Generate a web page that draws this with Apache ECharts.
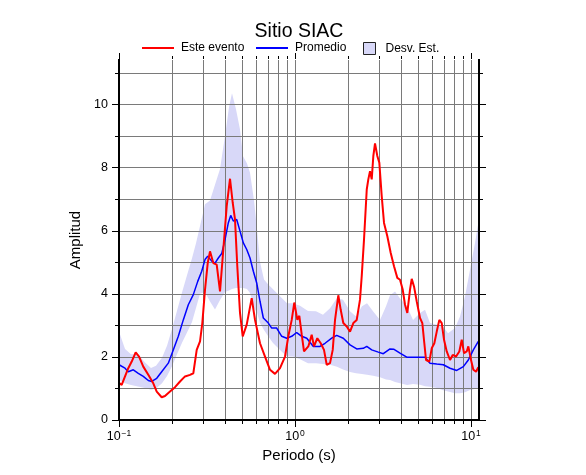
<!DOCTYPE html>
<html>
<head>
<meta charset="utf-8">
<script src="https://cdn.jsdelivr.net/npm/echarts@6/dist/echarts.min.js"></script>
<style>html,body{margin:0;padding:0;background:#fff}#chart{width:586px;height:475px}</style>
</head>
<body>
<div id="chart"></div>
<script>
// ---- Data ----
const redPeriod = [0.100,0.1036,0.1082,0.1129,0.1181,0.1244,0.130,0.1374,0.1467,0.1566,0.1638,0.1748,0.1825,0.1949,0.2081,0.2222,0.2371,0.2532,0.2644,0.2764,0.2886,0.2974,0.3081,0.3192,0.3289,0.3434,0.359,0.3749,0.3914,0.4092,0.4273,0.4426,0.4561,0.47,0.487,0.5045,0.5317,0.5675,0.5926,0.6326,0.6754,0.7211,0.7698,0.8219,0.8775,0.9161,0.9579,0.9908,1.031,1.058,1.092,1.125,1.190,1.244,1.282,1.339,1.400,1.461,1.514,1.581,1.638,1.688,1.762,1.818,1.881,1.967,2.054,2.145,2.242,2.340,2.393,2.466,2.556,2.609,2.668,2.728,2.786,2.848,2.935,3.013,3.109,3.204,3.346,3.498,3.652,3.813,3.950,4.092,4.217,4.345,4.502,4.604,4.743,4.914,5.131,5.288,5.429,5.551,5.797,5.98,6.187,6.386,6.607,6.817,7.025,7.277,7.598,7.870,8.219,8.581,8.856,9.125,9.454,9.654,10.0,10.31,10.68,11.0];
const redAmp = [1.18,1.11,1.38,1.64,1.85,2.14,2.01,1.69,1.43,1.16,0.90,0.72,0.76,0.90,1.04,1.22,1.38,1.43,1.48,2.22,2.49,3.07,4.13,4.97,5.34,4.97,4.92,4.07,5.40,6.77,7.64,6.88,6.35,4.87,3.39,2.65,3.02,3.86,3.17,2.43,2.01,1.59,1.46,1.64,2.01,2.65,3.17,3.72,3.17,3.30,2.70,2.17,2.33,2.70,2.33,2.59,2.43,2.22,1.75,1.80,2.22,3.17,3.95,3.49,3.07,2.96,2.80,3.07,3.17,3.81,4.55,5.71,7.30,7.62,7.88,7.62,8.36,8.76,8.36,8.15,7.09,6.24,5.82,5.29,4.87,4.50,4.44,4.13,3.65,3.39,4.13,4.47,4.23,3.76,3.23,3.07,2.43,1.90,1.85,2.27,2.43,2.80,3.17,3.07,2.54,2.17,1.90,2.06,2.01,2.17,2.54,2.12,2.17,2.33,1.90,1.59,1.53,1.67];

const bluePeriod = [0.100,0.1082,0.1129,0.1206,0.1287,0.1374,0.1467,0.1534,0.1638,0.1748,0.1906,0.2034,0.2173,0.2319,0.2476,0.2644,0.2801,0.2951,0.3081,0.3192,0.3363,0.3511,0.3667,0.3833,0.4003,0.4178,0.4312,0.4461,0.4664,0.487,0.5086,0.5317,0.5551,0.5797,0.6059,0.6326,0.6607,0.7053,0.7373,0.787,0.8404,0.8972,0.9579,1.022,1.092,1.166,1.271,1.387,1.481,1.616,1.725,1.881,2.054,2.242,2.443,2.556,2.728,2.974,3.174,3.466,3.652,3.950,4.312,4.700,5.131,5.479,5.848,6.386,6.961,7.598,8.295,9.044,9.654,10.31,11.0];
const blueAmp = [1.75,1.64,1.53,1.59,1.48,1.38,1.25,1.22,1.32,1.53,1.80,2.22,2.65,3.17,3.65,3.97,4.39,4.71,5.08,5.19,5.03,4.97,5.13,5.27,5.71,6.24,6.48,6.30,6.35,5.98,5.61,5.40,5.13,4.71,4.34,3.76,3.23,3.07,2.91,2.91,2.65,2.59,2.65,2.77,2.65,2.59,2.33,2.33,2.43,2.59,2.68,2.59,2.38,2.25,2.27,2.33,2.22,2.15,2.10,2.25,2.24,2.12,1.99,1.99,1.99,1.99,1.80,1.77,1.75,1.64,1.57,1.69,1.90,2.22,2.49];

const bandPeriod = [0.100,0.1082,0.117,0.1282,0.1405,0.152,0.1623,0.1755,0.1874,0.2001,0.2136,0.228,0.2434,0.2599,0.2738,0.2886,0.3081,0.3289,0.3511,0.3749,0.4003,0.4217,0.4385,0.4621,0.487,0.5065,0.5337,0.5551,0.5848,0.6083,0.6326,0.6667,0.7025,0.7499,0.8219,0.9008,0.9741,1.068,1.185,1.316,1.442,1.581,1.732,1.874,2.054,2.222,2.402,2.566,2.775,3.041,3.289,3.466,3.700,3.950,4.329,4.683,5.131,5.479,5.848,6.411,6.934,7.402,8.111,8.660,9.246,9.870,10.54,11.0];
const bandHigh = [2.80,2.25,2.08,2.08,1.82,1.65,1.72,1.97,2.35,2.88,3.46,4.04,4.58,5.12,5.60,6.14,6.83,6.95,7.45,7.95,9.00,9.90,10.35,9.84,9.20,8.35,8.12,7.83,6.95,6.05,5.00,4.45,4.30,4.14,3.92,3.70,3.70,3.62,3.45,3.44,3.33,3.54,3.86,3.81,3.44,3.28,3.60,3.70,3.44,3.17,3.60,3.95,4.07,3.85,3.60,3.17,3.39,3.49,3.07,3.02,2.96,2.75,2.91,3.28,3.92,4.76,5.61,6.24];
const bandLow = [1.27,1.16,1.11,1.06,1.01,0.96,1.00,1.16,1.39,1.70,2.08,2.45,2.77,3.10,3.55,4.00,4.05,3.75,3.50,3.80,4.05,4.10,4.15,4.18,4.18,4.18,4.15,4.02,3.55,3.40,3.07,2.85,2.66,2.44,2.22,2.01,2.01,1.92,1.80,1.80,1.77,1.75,1.69,1.60,1.52,1.48,1.46,1.43,1.40,1.35,1.28,1.27,1.20,1.16,1.11,1.14,1.12,1.07,1.05,1.01,0.94,0.90,0.85,0.85,0.88,0.95,0.98,1.01];

const xGridValues = [0.1,0.2,0.3,0.4,0.5,0.6,0.7,0.8,0.9,1,2,3,4,5,6,7,8,9,10];
const yTickValues = [0,1,2,3,4,5,6,7,8,9,10,11];

const X_MIN = 0.1, X_MAX = 11.1, Y_MIN = 0, Y_MAX = 11.4;

// ---- Styles ----
const FONT = 'Liberation Sans, Arial, Helvetica, sans-serif';
const RED = '#ff0000', BLUE = '#0000ff', BAND = '#d8d8f8', GRID = '#7a7a7a';

const isDecade = v => Math.abs(Math.log10(v) - Math.round(Math.log10(v))) < 1e-9;
const crisp = v => Math.round(v) + 0.5;

const chart = echarts.init(document.getElementById('chart'), null, {renderer: 'canvas'});

const axisLineStyle = {color: '#000', width: 2, cap: 'square'};
const legendText = {fontFamily: FONT, fontSize: 12, color: '#000'};

const option = {
  animation: false,
  backgroundColor: '#fff',
  title: {
    text: 'Sitio SIAC', left: 299, top: 22, textAlign: 'center', padding: 0,
    textStyle: {fontFamily: FONT, fontSize: 19.5, fontWeight: 'normal', color: '#000'}
  },
  legend: [
    {data: [{name: 'Este evento', icon: 'rect', itemStyle: {color: RED, borderWidth: 0}}],
     left: 142, top: 42, padding: 0, itemWidth: 32, itemHeight: 2, selectedMode: false,
     textStyle: Object.assign({padding: [0,0,0,2]}, legendText)},
    {data: [{name: 'Promedio', icon: 'rect', itemStyle: {color: BLUE, borderWidth: 0}}],
     left: 256, top: 42, padding: 0, itemWidth: 32, itemHeight: 2, selectedMode: false,
     textStyle: Object.assign({padding: [0,0,0,2]}, legendText)},
    {data: [{name: 'Desv. Est.', icon: 'rect', itemStyle: {color: BAND, borderColor: '#222', borderWidth: 1}}],
     left: 363, top: 42, padding: 0, itemWidth: 12, itemHeight: 12, selectedMode: false,
     textStyle: Object.assign({padding: [0,0,0,5]}, legendText)}
  ],
  grid: {left: 119, top: 60, width: 360, height: 360, containLabel: false},
  xAxis: [
    {type: 'log', logBase: 10, min: X_MIN, max: X_MAX, position: 'bottom', z: 10,
     axisLine: {show: true, lineStyle: axisLineStyle}, axisTick: {show: false}, splitLine: {show: false},
     minorTick: {show: false}, minorSplitLine: {show: false},
     axisLabel: {
       margin: 9, color: '#000',
       formatter: v => {
         if (!isDecade(v)) return '';
         const e = Math.round(Math.log10(v));
         return '{b|10}{s|' + (e < 0 ? '\u2212' + (-e) : e) + '}';
       },
       rich: {
         b: {fontFamily: FONT, fontSize: 12.5, color: '#000', lineHeight: 14, verticalAlign: 'bottom'},
         s: {fontFamily: FONT, fontSize: 8.5, color: '#000', lineHeight: 14, verticalAlign: 'top', padding: [0,0,0,1]}
       }
     },
     name: 'Periodo (s)', nameLocation: 'middle', nameGap: 28,
     nameTextStyle: {fontFamily: FONT, fontSize: 15, color: '#000'}},
    {type: 'log', logBase: 10, min: X_MIN, max: X_MAX, position: 'top', z: 10,
     axisLine: {show: true, lineStyle: axisLineStyle}, axisTick: {show: false}, axisLabel: {show: false}, splitLine: {show: false}}
  ],
  yAxis: [
    {type: 'value', min: Y_MIN, max: Y_MAX, interval: 1, position: 'left', z: 10,
     axisLine: {show: true, lineStyle: axisLineStyle}, axisTick: {show: false}, splitLine: {show: false},
     axisLabel: {margin: 11, color: '#000', fontFamily: FONT, fontSize: 12.5,
       formatter: v => (Number.isInteger(v) && v % 2 === 0) ? String(v) : ''},
     name: 'Amplitud', nameLocation: 'middle', nameGap: 26,
     nameTextStyle: {fontFamily: FONT, fontSize: 15, color: '#000'}},
    {type: 'value', min: Y_MIN, max: Y_MAX, interval: 1, position: 'right', z: 10,
     axisLine: {show: true, lineStyle: axisLineStyle}, axisTick: {show: false}, axisLabel: {show: false}, splitLine: {show: false}}
  ],
  series: [
    {name: 'Desv. Est.', type: 'custom', silent: true, z: 1, clip: true,
     itemStyle: {color: BAND},
     data: bandPeriod.map((p, i) => [p, bandLow[i], bandHigh[i]]),
     encode: {x: 0, y: [1, 2]},
     renderItem: (params, api) => {
       if (params.dataIndex !== 0) return null;
       const pts = [];
       for (let i = 0; i < bandPeriod.length; i++) pts.push(api.coord([bandPeriod[i], bandHigh[i]]));
       for (let i = bandPeriod.length - 1; i >= 0; i--) pts.push(api.coord([bandPeriod[i], bandLow[i]]));
       return {type: 'polygon', shape: {points: pts}, style: {fill: BAND, stroke: null}};
     }},
    {name: 'vgrid', type: 'custom', silent: true, z: 2, clip: false,
     data: xGridValues.map(v => [v, isDecade(v) ? 1 : 0]),
     encode: {x: 0, y: 1},
     renderItem: (params, api) => {
       const v = api.value(0), major = api.value(1) === 1;
       const b = api.coord([v, Y_MIN]), t = api.coord([v, Y_MAX]);
       const x = crisp(b[0]);
       const L = major ? 6 : 3;
       const ch = [];
       if (v > X_MIN * 1.0001) ch.push({type: 'line', shape: {x1: x, y1: b[1], x2: x, y2: t[1]}, style: {stroke: GRID, lineWidth: 1}});
       ch.push({type: 'line', shape: {x1: x, y1: b[1] + 1, x2: x, y2: b[1] + 1 + L}, style: {stroke: '#000', lineWidth: 1}});
       ch.push({type: 'line', shape: {x1: x, y1: t[1] - 1, x2: x, y2: t[1] - 1 - L}, style: {stroke: '#000', lineWidth: 1}});
       return {type: 'group', children: ch};
     }},
    {name: 'hgrid', type: 'custom', silent: true, z: 2, clip: false,
     data: yTickValues.map(v => [X_MIN, v, v % 2 === 0 ? 1 : 0]),
     encode: {x: 0, y: 1},
     renderItem: (params, api) => {
       const v = api.value(1), major = api.value(2) === 1;
       const l = api.coord([X_MIN, v]), r = api.coord([X_MAX, v]);
       const y = crisp(l[1]);
       const L = major ? 6 : 3;
       const ch = [];
       if (v > Y_MIN) ch.push({type: 'line', shape: {x1: l[0], y1: y, x2: r[0], y2: y}, style: {stroke: GRID, lineWidth: 1}});
       ch.push({type: 'line', shape: {x1: l[0] - 1, y1: y, x2: l[0] - 1 - L, y2: y}, style: {stroke: '#000', lineWidth: 1}});
       ch.push({type: 'line', shape: {x1: r[0] + 1, y1: y, x2: r[0] + 1 + L, y2: y}, style: {stroke: '#000', lineWidth: 1}});
       return {type: 'group', children: ch};
     }},
    {name: 'Promedio', type: 'line', symbol: 'none', z: 3,
     data: bluePeriod.map((p, i) => [p, blueAmp[i]]),
     lineStyle: {color: BLUE, width: 1.5}, itemStyle: {color: BLUE}},
    {name: 'Este evento', type: 'line', symbol: 'none', z: 4,
     data: redPeriod.map((p, i) => [p, redAmp[i]]),
     lineStyle: {color: RED, width: 2}, itemStyle: {color: RED}}
  ]
};
chart.setOption(option);
</script>
</body>
</html>
